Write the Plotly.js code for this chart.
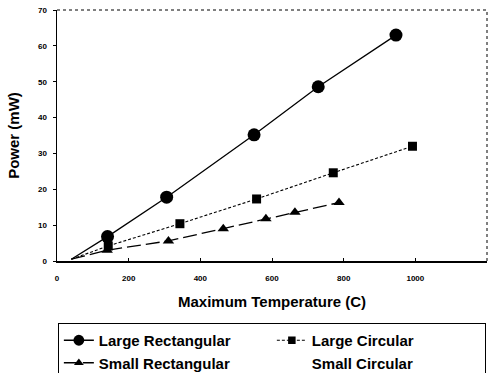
<!DOCTYPE html>
<html><head><meta charset="utf-8">
<script src="https://cdn.plot.ly/plotly-3.0.1.min.js"></script>
<style>html,body{margin:0;padding:0;background:#fff}#c{width:496px;height:373px}</style>
</head><body><div id="c"></div>
<script>
const lrX = [40, 141, 306, 550, 729, 946];
const lrY = [0.5, 6.8, 17.8, 35.2, 48.6, 63.0];
const lcX = [40, 143, 343, 557, 771, 992];
const lcY = [0.5, 4.2, 10.4, 17.3, 24.6, 32.0];
const srX = [40, 140, 311, 464, 583, 664, 787];
const srY = [0.5, 3.0, 5.6, 9.0, 11.8, 13.6, 16.3];
const scX = [40];
const scY = [0.5];
const xTicks = [0, 200, 400, 600, 800, 1000, 1200];
const yTicks = [0, 10, 20, 30, 40, 50, 60, 70];

function sizes(n, s){ return Array.from({length:n}, (_, i) => i === 0 ? 0 : s); }

const traces = [
  {x: lrX, y: lrY, name: 'Large Rectangular', mode: 'lines+markers',
   line: {color: '#000', width: 1.3},
   marker: {symbol: 'circle', size: sizes(lrX.length, 13), color: '#000', opacity: 1, line: {width: 0}}},
  {x: lcX, y: lcY, name: 'Large Circular', mode: 'lines+markers',
   line: {color: '#000', width: 1.1, dash: '3px,2px'},
   marker: {symbol: 'square', size: sizes(lcX.length, 9), color: '#000', opacity: 1, line: {width: 0}}},
  {x: srX, y: srY, name: 'Small Rectangular', mode: 'lines+markers',
   line: {color: '#000', width: 1.3, dash: '14px,5px'},
   marker: {symbol: 'triangle-up', size: sizes(srX.length, 10), color: '#000', opacity: 1, line: {width: 0}}},
  {x: scX, y: scY, name: 'Small Circular', mode: 'lines',
   line: {color: 'rgba(0,0,0,0)', width: 1}}
];

const layout = {
  width: 496, height: 373,
  margin: {l: 57, r: 9, t: 10, b: 112, autoexpand: false},
  paper_bgcolor: '#fff', plot_bgcolor: '#fff',
  font: {family: 'Liberation Sans, Arial, sans-serif', color: '#000'},
  showlegend: true,
  xaxis: {
    range: [0, 1200], tickvals: xTicks, ticktext: xTicks.map(String),
    showgrid: false, zeroline: false, showline: true, linecolor: '#000', linewidth: 1.5,
    ticks: 'inside', ticklen: 3, tickcolor: '#000', automargin: false,
    tickfont: {size: 8, weight: 'bold'}, ticklabelstandoff: 9,
    title: {text: 'Maximum Temperature (C)', font: {size: 15, weight: 'bold'}, standoff: 14}
  },
  yaxis: {
    range: [0, 70], tickvals: yTicks, ticktext: yTicks.map(String),
    showgrid: false, zeroline: false, showline: true, linecolor: '#000', linewidth: 1.5,
    ticks: 'outside', ticklen: 3, tickcolor: '#000', automargin: false,
    tickfont: {size: 8, weight: 'bold'}, ticklabelstandoff: 4,
    title: {text: 'Power (mW)', font: {size: 15, weight: 'bold'}, standoff: 14}
  },
  shapes: [
    {type: 'line', xref: 'paper', yref: 'paper', x0: 0, x1: 1, y0: 1, y1: 1,
     line: {color: '#000', width: 1, dash: 'dot'}},
    {type: 'line', xref: 'paper', yref: 'paper', x0: 1, x1: 1, y0: 0, y1: 1,
     line: {color: '#000', width: 1, dash: 'dot'}}
  ],
  legend: {
    orientation: 'h', x: 0.002, xanchor: 'left', y: -0.247, yanchor: 'top',
    entrywidth: 168, bordercolor: '#000', borderwidth: 1,
    font: {size: 15, weight: 'bold'}, tracegroupgap: 0, itemwidth: 30
  }
};

Plotly.newPlot('c', traces, layout, {displayModeBar: false, staticPlot: true});
</script></body></html>
